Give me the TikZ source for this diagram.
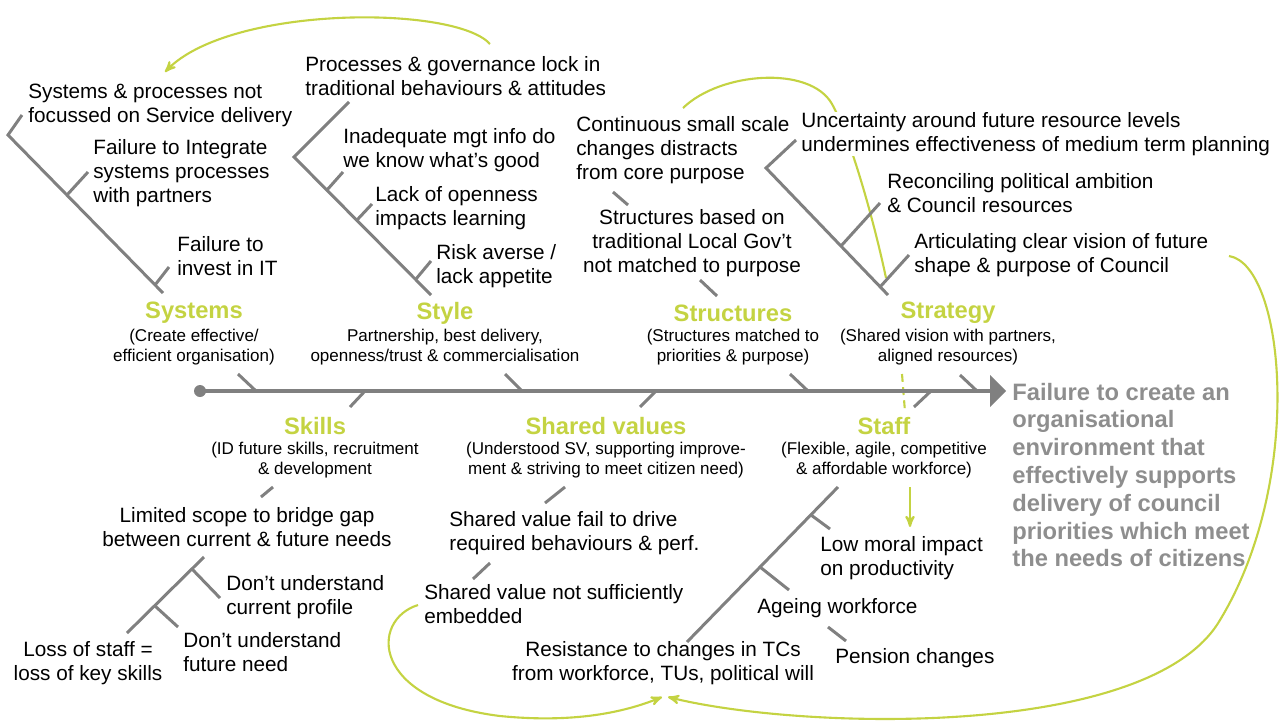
\documentclass[tikz,border=0pt]{standalone}
\usepackage{fontspec}
\setmainfont{Liberation Sans}
\usetikzlibrary{arrows}

\definecolor{leaf}{RGB}{196,211,66}
\definecolor{bone}{RGB}{128,128,128}
\definecolor{goalgray}{RGB}{142,142,142}

\tikzset{
  cause/.style={font=\fontsize{11.8}{13.6}\selectfont,inner sep=0pt,align=left,anchor=west},
  causec/.style={cause,align=center,anchor=center},
  cat/.style={font=\fontsize{13.5}{16}\selectfont\bfseries,text=leaf,inner sep=0pt},
  catsub/.style={font=\fontsize{9.7}{11.3}\selectfont,align=center,inner sep=0pt},
  spine/.style={bone,line width=2.3pt},
  rib/.style={bone,line width=1.7pt},
  loop/.style={leaf,line width=1.2pt}
}

\begin{document}
\begin{tikzpicture}[x=0.02cm,y=-0.02cm]
  \useasboundingbox (0,0) rectangle (1287,720);

  % feedback loops
  \draw[loop,-{stealth'}] (490,44) .. controls (455,5) and (230,5) .. (165,72);
  \draw[loop] (683,108) .. controls (720,72) and (810,65) .. (832,104)
    .. controls (852,140) and (876,230) .. (886,278);
  \draw[loop,dash pattern=on 4.5pt off 3pt] (902,374) -- (905,412);
  \draw[loop,-{stealth'}] (910,487) -- (910,527);
  \draw[loop,-{stealth'}] (418,605) .. controls (370,620) and (370,700) .. (500,716)
    .. controls (580,724) and (630,710) .. (662,697);
  \draw[loop,-{stealth'}] (1229,256) .. controls (1285,265) and (1305,480) .. (1220,620)
    .. controls (1150,740) and (800,730) .. (668,697);

  % spine
  \draw[spine] (200,391) -- (992,391);
  \fill[bone] (200,391) circle [radius=6];
  \fill[bone] (990,375) -- (1006,391) -- (990,407) -- cycle;
  \draw[rib] (238,374) -- (256,391);
  \draw[rib] (505,374) -- (522,391);
  \draw[rib] (790,374) -- (808,391);
  \draw[rib] (960,375) -- (977,391);
  \draw[rib] (365,391) -- (350,407);
  \draw[rib] (656,391) -- (640,407);
  \draw[rib] (931,391) -- (914,407);

  % upper bones
  \draw[rib] (22,115) -- (8,135) -- (163,293);
  \draw[rib] (67,195) -- (88,172);
  \draw[rib] (155,285) -- (169,267);
  \draw[rib] (349,102) -- (294,157) -- (431,295);
  \draw[rib] (327,190) -- (343,172);
  \draw[rib] (357,220) -- (372,204);
  \draw[rib] (416,279) -- (431,261);
  \draw[rib] (613,192) -- (628,205);
  \draw[rib] (700,280) -- (717,296);
  \draw[rib] (796,140) -- (766,168) -- (888,295);
  \draw[rib] (841,246) -- (880,203);
  \draw[rib] (880,287) -- (909,255);

  % lower bones
  \draw[rib] (273,487) -- (261,497);
  \draw[rib] (204,557) -- (127,633);
  \draw[rib] (192,569) -- (220,598);
  \draw[rib] (155,606) -- (178,627);
  \draw[rib] (565,487) -- (545,503);
  \draw[rib] (490,563) -- (473,579);
  \draw[rib] (838,487) -- (687,642);
  \draw[rib] (811,515) -- (830,529);
  \draw[rib] (760,567) -- (789,590);
  \draw[rib] (828,627) -- (846,641);

  % categories
  \node[cat] (systems) at (194,313) {Systems};
  \node[catsub] (systemsSub) at (194,347) {(Create effective/\\efficient organisation)};
  \node[cat] (style) at (445,313) {Style};
  \node[catsub] (styleSub) at (445,347) {Partnership, best delivery,\\openness/trust \& commercialisation};
  \node[cat] (structures) at (733,313) {Structures};
  \node[catsub] (structuresSub) at (733,347) {(Structures matched to\\priorities \& purpose)};
  \node[cat] (strategy) at (948,313) {Strategy};
  \node[catsub] (strategySub) at (948,347) {(Shared vision with partners,\\aligned resources)};
  \node[cat] (skills) at (315,426) {Skills};
  \node[catsub] (skillsSub) at (315,460) {(ID future skills, recruitment\\\& development};
  \node[cat] (values) at (606,426) {Shared values};
  \node[catsub] (valuesSub) at (606,460) {(Understood SV, supporting improve-\\ment \& striving to meet citizen need)};
  \node[cat] (staff) at (884,426) {Staff};
  \node[catsub] (staffSub) at (884,460) {(Flexible, agile, competitive\\\& affordable workforce)};

  % causes
  \node[cause] (sys1) at (28,105) {Systems \& processes not\\focussed on Service delivery};
  \node[cause] (sys2) at (93,173) {Failure to Integrate\\systems processes\\with partners};
  \node[cause] (sys3) at (177,256) {Failure to\\invest in IT};
  \node[cause] (sty1) at (305,76) {Processes \& governance lock in\\traditional behaviours \& attitudes};
  \node[cause] (sty2) at (343,150) {Inadequate mgt info do\\we know what’s good};
  \node[cause] (sty3) at (375,208) {Lack of openness\\impacts learning};
  \node[cause] (sty4) at (436,266) {Risk averse /\\lack appetite};
  \node[cause] (str1) at (576,150) {Continuous small scale\\changes distracts\\from core purpose};
  \node[causec] (str2) at (692,243) {Structures based on\\traditional Local Gov’t\\not matched to purpose};
  \node[cause,fill=white] (stg1) at (801,134) {Uncertainty around future resource levels\\undermines effectiveness of medium term planning};
  \node[cause] (stg2) at (887,193) {Reconciling political ambition\\\& Council resources};
  \node[cause] (stg3) at (914,255) {Articulating clear vision of future\\shape \& purpose of Council};
  \node[causec] (ski1) at (247,527) {Limited scope to bridge gap\\between current \& future needs};
  \node[cause] (ski2) at (226,597) {Don’t understand\\current profile};
  \node[cause] (ski3) at (183,652) {Don’t understand\\future need};
  \node[causec] (ski4) at (88,663) {Loss of staff =\\loss of key skills};
  \node[cause] (shv1) at (449,533) {Shared value fail to drive\\required behaviours \& perf.};
  \node[cause] (shv2) at (424,604) {Shared value not sufficiently\\embedded};
  \node[cause] (stf1) at (820,558) {Low moral impact\\on productivity};
  \node[cause] (stf2) at (757,608) {Ageing workforce};
  \node[cause] (stf3) at (835,658) {Pension changes};
  \node[causec] (stf4) at (663,663) {Resistance to changes in TCs\\from workforce, TUs, political will};

  \node[font=\fontsize{13.5}{15.8}\selectfont\bfseries,text=goalgray,align=left,anchor=west,inner sep=0pt]
    (goal) at (1012,475) {Failure to create an\\organisational\\environment that\\effectively supports\\delivery of council\\priorities which meet\\the needs of citizens};
\end{tikzpicture}
\end{document}
